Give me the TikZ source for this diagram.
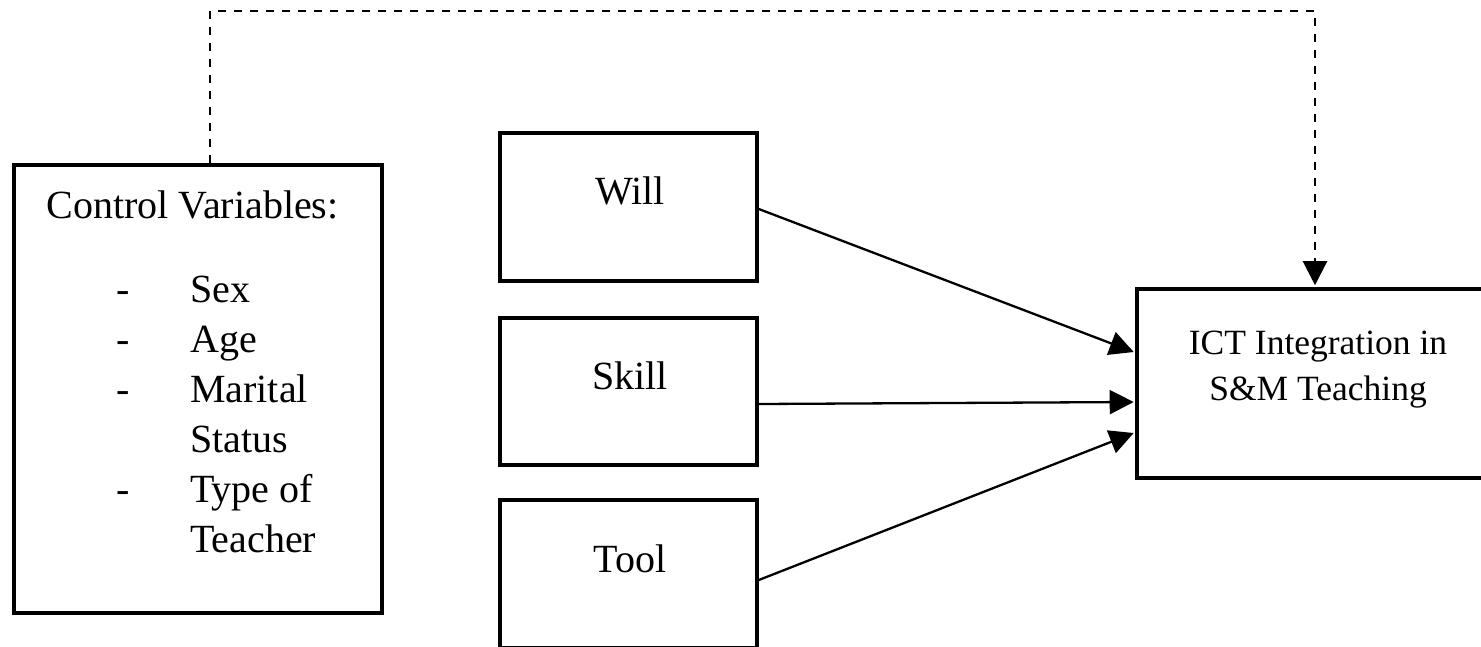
\documentclass[tikz,border=0pt]{standalone}
\usepackage{fontspec}
\setmainfont{Liberation Serif}
\usetikzlibrary{arrows.meta,calc}
\begin{document}
\begin{tikzpicture}[x=1pt,y=-1pt,
  box/.style={draw, line width=3.6pt, rectangle, inner sep=0pt},
  big/.style={font=\fontsize{40}{50}\selectfont, inner sep=0pt, anchor=base},
  mid/.style={font=\fontsize{35.5}{46}\selectfont, inner sep=0pt, anchor=base},
  conn/.style={line width=2.3pt, -{Triangle[length=24pt,width=24pt]}},
  dconn/.style={line width=2.3pt, dash pattern=on 8pt off 8pt, -{Triangle[length=24pt,width=24pt]}}]
\useasboundingbox[fill=white] (0,0) rectangle (1481,646);
% boxes
\node[box, minimum width=368pt, minimum height=448pt] (ctrl) at (198,389) {};
\node[box, minimum width=257pt, minimum height=148pt] (will) at (628.5,207) {};
\node[box, minimum width=257pt, minimum height=147pt] (skill) at (628.5,391.5) {};
\node[box, minimum width=257pt, minimum height=148pt] (tool) at (628.5,574) {};
\node[box, minimum width=363pt, minimum height=189pt] (ict) at (1318.5,383.5) {};
% texts
\node[big] (ctrlT) at (192.5,218) {Control Variables:};
\node[big] (d1) at (123,302) {-};
\node[big, anchor=base west] (sex) at (190,302) {Sex};
\node[big] (d2) at (123,352) {-};
\node[big, anchor=base west] (age) at (190,352) {Age};
\node[big] (d3) at (123,402) {-};
\node[big, anchor=base west] (mar) at (190,402) {Marital};
\node[big, anchor=base west] (sta) at (190,452) {Status};
\node[big] (d4) at (123,502) {-};
\node[big, anchor=base west] (typ) at (190,502) {Type of};
\node[big, anchor=base west] (tea) at (190,552) {Teacher};
\node[big] (willT) at (630,204) {Will};
\node[big] (skillT) at (630,389) {Skill};
\node[big] (toolT) at (630,572) {Tool};
\node[mid] (ict1) at (1318,354) {ICT Integration in};
\node[mid] (ict2) at (1318,400) {S\&M Teaching};
% connectors
\coordinate (wa) at ($(will.east)+(0,2)$);
\coordinate (sa) at ($(skill.east)+(0,12.5)$);
\coordinate (ta) at ($(tool.east)+(0,6)$);
\coordinate (i1) at ($(ict.west)+(-1.5,-31.5)$);
\coordinate (i2) at ($(ict.west)+(-1.5,18.5)$);
\coordinate (i3) at ($(ict.west)+(-1.5,49.5)$);
\draw[conn] (wa) -- (i1);
\draw[conn] (sa) -- (i2);
\draw[conn] (ta) -- (i3);
\coordinate (cs) at (ctrl.north -| 210,0);
\coordinate (ie) at ($(ict.north -| 1315,0)+(0,-2)$);
\draw[dconn] (cs) -- (210,11) -- (1315,11) -- (ie);
\end{tikzpicture}
\end{document}
